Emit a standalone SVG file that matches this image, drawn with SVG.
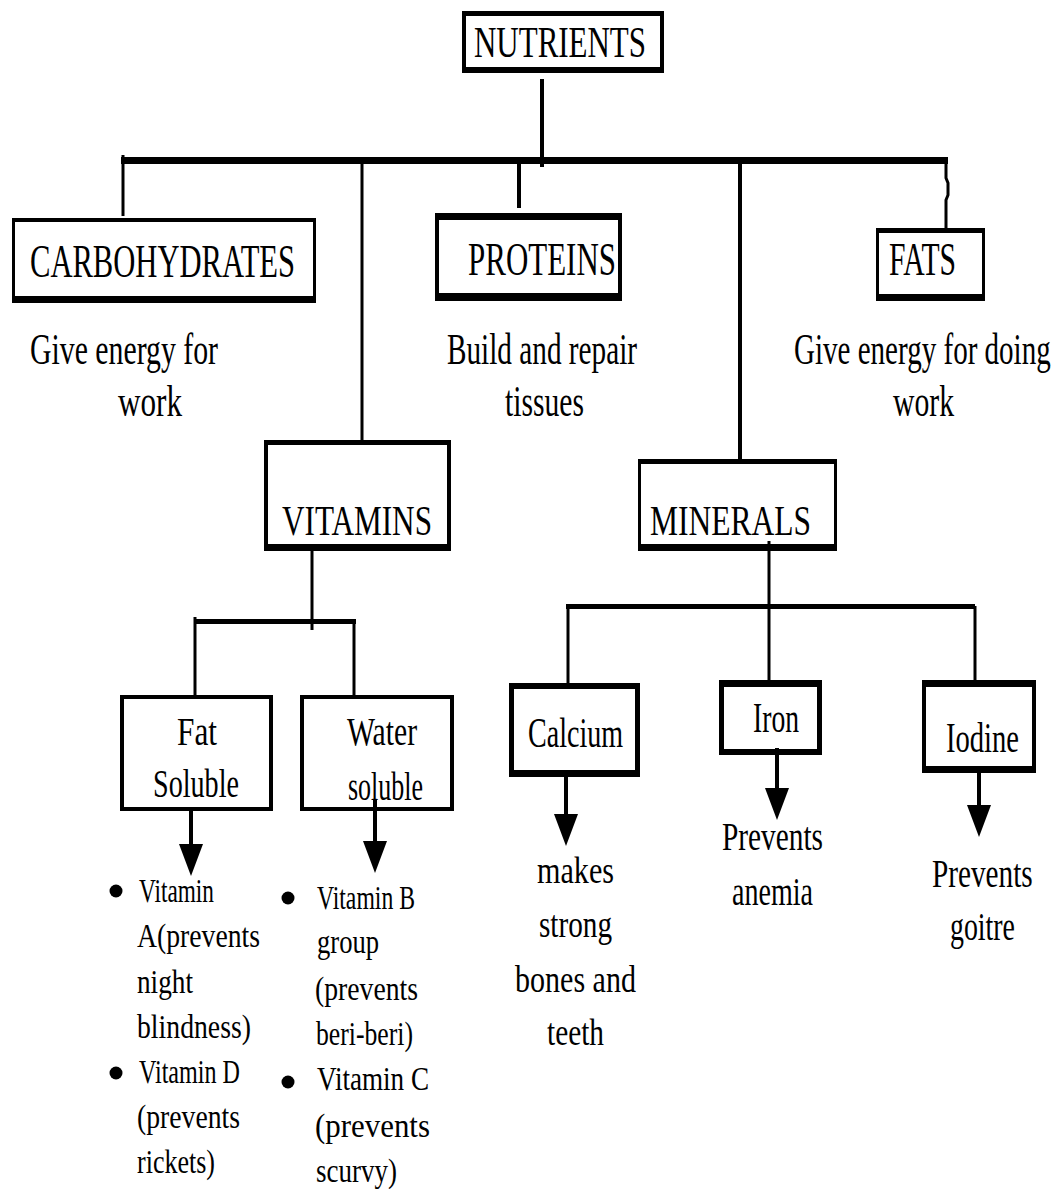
<svg xmlns="http://www.w3.org/2000/svg" width="1059" height="1189" viewBox="0 0 1059 1189">
<style>
text{font-family:"Liberation Serif","Times New Roman",serif;fill:#000;}
.frame{fill:#000;fill-rule:evenodd;}
.t1{font-size:46px;}
.t2{font-size:44px;}
.t3{font-size:42px;}
.t4{font-size:40px;}
.t5{font-size:38px;}
.t6{font-size:33px;}
.ln{stroke:#000;fill:none;}
</style>
<defs>
<marker id="ah" markerUnits="userSpaceOnUse" markerWidth="34" markerHeight="24" refX="0" refY="12" orient="auto">
<path d="M0,0 L32,12 L0,24 Z" fill="#000"/>
</marker>
</defs>
<rect width="1059" height="1189" fill="#fff"/>
<g id="connectors">
<line class="ln" x1="542" y1="79" x2="542" y2="167" stroke-width="4"/>
<rect x="121" y="157" width="827" height="7" fill="#000"/>
<line class="ln" x1="123" y1="155" x2="123" y2="216" stroke-width="3"/>
<line class="ln" x1="362" y1="164" x2="362" y2="441" stroke-width="3"/>
<line class="ln" x1="519" y1="164" x2="519" y2="208" stroke-width="4"/>
<line class="ln" x1="740" y1="164" x2="740" y2="460" stroke-width="4"/>
<path class="ln" d="M946,163 L946,178 L948,183 L948,195 L946,200 L946,229" stroke-width="3"/>
<line class="ln" x1="312" y1="551" x2="312" y2="630" stroke-width="3"/>
<rect x="194" y="619" width="162" height="5" fill="#000"/>
<line class="ln" x1="195" y1="617" x2="195" y2="696" stroke-width="3"/>
<line class="ln" x1="354" y1="620" x2="354" y2="696" stroke-width="3"/>
<line class="ln" x1="769" y1="541" x2="769" y2="681" stroke-width="3"/>
<rect x="566" y="604" width="409" height="5" fill="#000"/>
<line class="ln" x1="568" y1="606" x2="568" y2="684" stroke-width="3"/>
<line class="ln" x1="975" y1="606" x2="975" y2="681" stroke-width="3"/>
<line class="ln" x1="191" y1="811" x2="191" y2="844" stroke-width="4" marker-end="url(#ah)"/>
<line class="ln" x1="375" y1="800" x2="375" y2="841" stroke-width="4" marker-end="url(#ah)"/>
<line class="ln" x1="566" y1="777" x2="566" y2="814" stroke-width="4" marker-end="url(#ah)"/>
<line class="ln" x1="777" y1="748" x2="777" y2="788" stroke-width="4" marker-end="url(#ah)"/>
<line class="ln" x1="979" y1="773" x2="979" y2="805" stroke-width="4" marker-end="url(#ah)"/>
</g>
<g id="nutrients">
<path class="frame" d="M462,11 H664 V73 H462 Z M466,16 H660 V67 H466 Z"/>
<text class="t2" x="474" y="57" textLength="172" lengthAdjust="spacingAndGlyphs">NUTRIENTS</text>
</g>
<g id="carbohydrates">
<path class="frame" d="M12,218 H316 V303 H12 Z M15,222 H313 V296 H15 Z"/>
<text class="t1" x="30" y="277" textLength="265" lengthAdjust="spacingAndGlyphs">CARBOHYDRATES</text>
<text class="t2" x="30" y="364" textLength="188" lengthAdjust="spacingAndGlyphs">Give energy for</text>
<text class="t2" x="118" y="416" textLength="64" lengthAdjust="spacingAndGlyphs">work</text>
</g>
<g id="proteins">
<path class="frame" d="M435,213 H622 V301 H435 Z M439,220 H618 V293 H439 Z"/>
<text class="t1" x="468" y="275" textLength="148" lengthAdjust="spacingAndGlyphs">PROTEINS</text>
<text class="t2" x="447" y="364" textLength="190" lengthAdjust="spacingAndGlyphs">Build and repair</text>
<text class="t2" x="505" y="416" textLength="79" lengthAdjust="spacingAndGlyphs">tissues</text>
</g>
<g id="fats">
<path class="frame" d="M876,228 H985 V301 H876 Z M879,233 H982 V294 H879 Z"/>
<text class="t1" x="889" y="275" textLength="67" lengthAdjust="spacingAndGlyphs">FATS</text>
<text class="t2" transform="translate(794,364) scale(0.66,1)" x="0" y="0" textLength="389" lengthAdjust="spacingAndGlyphs">Give energy for doing</text>
<text class="t2" x="893" y="416" textLength="61" lengthAdjust="spacingAndGlyphs">work</text>
</g>
<g id="vitamins">
<path class="frame" d="M264,440 H451 V551 H264 Z M268,445 H447 V544 H268 Z"/>
<text class="t3" x="282" y="535" textLength="150" lengthAdjust="spacingAndGlyphs">VITAMINS</text>
</g>
<g id="minerals">
<path class="frame" d="M638,459 H837 V551 H638 Z M641,464 H834 V544 H641 Z"/>
<text class="t3" x="650" y="535" textLength="161" lengthAdjust="spacingAndGlyphs">MINERALS</text>
</g>
<g id="fat-soluble">
<path class="frame" d="M120,695 H273 V811 H120 Z M124,699 H269 V807 H124 Z"/>
<text class="t4" x="177" y="745" textLength="40" lengthAdjust="spacingAndGlyphs">Fat</text>
<text class="t4" x="153" y="797" textLength="86" lengthAdjust="spacingAndGlyphs">Soluble</text>
<circle cx="116" cy="891" r="6.5" fill="#000"/>
<text class="t6" x="139" y="902" textLength="75" lengthAdjust="spacingAndGlyphs">Vitamin</text>
<text class="t6" x="137" y="947" textLength="123" lengthAdjust="spacingAndGlyphs">A(prevents</text>
<text class="t6" x="137" y="993" textLength="56" lengthAdjust="spacingAndGlyphs">night</text>
<text class="t6" x="137" y="1038" textLength="114" lengthAdjust="spacingAndGlyphs">blindness)</text>
<circle cx="116" cy="1073" r="6.5" fill="#000"/>
<text class="t6" x="139" y="1083" textLength="101" lengthAdjust="spacingAndGlyphs">Vitamin D</text>
<text class="t6" x="137" y="1128" textLength="103" lengthAdjust="spacingAndGlyphs">(prevents</text>
<text class="t6" x="137" y="1173" textLength="78" lengthAdjust="spacingAndGlyphs">rickets)</text>
</g>
<g id="water-soluble">
<path class="frame" d="M300,695 H454 V811 H300 Z M304,699 H450 V807 H304 Z"/>
<text class="t4" x="347" y="745" textLength="70" lengthAdjust="spacingAndGlyphs">Water</text>
<text class="t4" x="348" y="800" textLength="75" lengthAdjust="spacingAndGlyphs">soluble</text>
<circle cx="288" cy="898" r="6.5" fill="#000"/>
<text class="t6" x="317" y="909" textLength="98" lengthAdjust="spacingAndGlyphs">Vitamin B</text>
<text class="t6" x="317" y="953" textLength="62" lengthAdjust="spacingAndGlyphs">group</text>
<text class="t6" x="315" y="1000" textLength="103" lengthAdjust="spacingAndGlyphs">(prevents</text>
<text class="t6" x="316" y="1045" textLength="97" lengthAdjust="spacingAndGlyphs">beri-beri)</text>
<circle cx="288" cy="1082" r="6.5" fill="#000"/>
<text class="t6" x="317" y="1090" textLength="112" lengthAdjust="spacingAndGlyphs">Vitamin C</text>
<text class="t6" x="315" y="1137" textLength="115" lengthAdjust="spacingAndGlyphs">(prevents</text>
<text class="t6" x="316" y="1182" textLength="81" lengthAdjust="spacingAndGlyphs">scurvy)</text>
</g>
<g id="calcium">
<path class="frame" d="M509,683 H640 V777 H509 Z M514,689 H635 V770 H514 Z"/>
<text class="t3" x="528" y="747" textLength="95" lengthAdjust="spacingAndGlyphs">Calcium</text>
<text class="t5" x="537" y="883" textLength="77" lengthAdjust="spacingAndGlyphs">makes</text>
<text class="t5" x="539" y="937" textLength="73" lengthAdjust="spacingAndGlyphs">strong</text>
<text class="t5" x="515" y="992" textLength="121" lengthAdjust="spacingAndGlyphs">bones and</text>
<text class="t5" x="547" y="1045" textLength="57" lengthAdjust="spacingAndGlyphs">teeth</text>
</g>
<g id="iron">
<path class="frame" d="M719,680 H822 V755 H719 Z M724,687 H817 V749 H724 Z"/>
<text class="t3" x="753" y="732" textLength="46" lengthAdjust="spacingAndGlyphs">Iron</text>
<text class="t4" x="722" y="850" textLength="101" lengthAdjust="spacingAndGlyphs">Prevents</text>
<text class="t4" x="732" y="905" textLength="81" lengthAdjust="spacingAndGlyphs">anemia</text>
</g>
<g id="iodine">
<path class="frame" d="M922,680 H1036 V773 H922 Z M926,687 H1032 V766 H926 Z"/>
<text class="t3" x="946" y="752" textLength="73" lengthAdjust="spacingAndGlyphs">Iodine</text>
<text class="t4" transform="translate(932,887) scale(0.73,1)" x="0" y="0" textLength="138" lengthAdjust="spacingAndGlyphs">Prevents</text>
<text class="t4" x="950" y="940" textLength="65" lengthAdjust="spacingAndGlyphs">goitre</text>
</g>
</svg>
